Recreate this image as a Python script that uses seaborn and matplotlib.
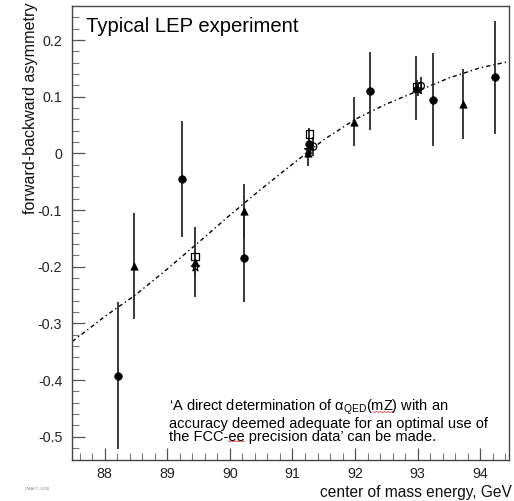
import numpy as np
import pandas as pd
import matplotlib
matplotlib.use("Agg")
import matplotlib.pyplot as plt
import seaborn as sns

# ---- data ----
circ_x = [88.22, 89.24, 90.23, 91.27, 92.24, 93.24, 94.24]
circ_y = [-0.392, -0.045, -0.185, 0.016, 0.110, 0.095, 0.134]
circ_e = [0.130, 0.102, 0.077, 0.012, 0.068, 0.082, 0.099]

tri_x = [88.47, 89.45, 90.23, 91.25, 91.98, 92.98, 93.73]
tri_y = [-0.199, -0.192, -0.102, 0.000, 0.056, 0.115, 0.087]
tri_e = [0.093, 0.062, 0.048, 0.022, 0.043, 0.057, 0.062]

sq_x = [89.44, 91.27, 92.99]
sq_y = [-0.182, 0.034, 0.118]
sq_e = [0.012, 0.010, 0.012]

star_x = [89.45, 91.26, 93.00]
star_y = [-0.201, 0.006, 0.113]
star_e = [0.015, 0.010, 0.012]

ocirc_x = [91.33, 93.05]
ocirc_y = [0.012, 0.119]
ocirc_e = [0.016, 0.015]

curve_x = [87.48, 88.0, 88.5, 89.0, 89.5, 90.0, 90.5, 91.0, 91.5, 92.0, 92.5, 93.0, 93.5, 94.0, 94.46]
curve_y = [-0.332, -0.288, -0.249, -0.204, -0.157, -0.109, -0.063, -0.019, 0.024, 0.060, 0.087, 0.110, 0.133, 0.151, 0.162]

x_ticks = [88, 89, 90, 91, 92, 93, 94]
y_ticks = [-0.5, -0.4, -0.3, -0.2, -0.1, 0.0, 0.1, 0.2]
y_tick_labels = ["-0.5", "-0.4", "-0.3", "-0.2", "-0.1", "0", "0.1", "0.2"]

sns.set_theme(style="white")
plt.rcParams['font.family'] = ['Liberation Sans', 'DejaVu Sans']
plt.rcParams['mathtext.fontset'] = 'custom'
plt.rcParams['mathtext.rm'] = 'Liberation Sans'
plt.rcParams['mathtext.it'] = 'Liberation Sans'

W, H = 514, 501
fig = plt.figure(figsize=(W / 100, H / 100), dpi=100)
ax = fig.add_axes([72/W, 41/H, 437/W, 454/H])

# theory curve
sns.lineplot(x=curve_x, y=curve_y, ax=ax, color="black", lw=1.0,
             dashes=False, sort=False)
ax.lines[-1].set_dashes((3, 2.2, 1, 2.2))

ecol = "#2a2a2a"
groups = [
    (circ_x, circ_y, circ_e, "o", "black", 30),
    (tri_x, tri_y, tri_e, "^", "black", 28),
    (sq_x, sq_y, sq_e, "s", "none", 28),
    (star_x, star_y, star_e, "*", "none", 40),
    (ocirc_x, ocirc_y, ocirc_e, "o", "none", 28),
]
for gx, gy, ge, m, fc, s in groups:
    gx = np.array(gx); gy = np.array(gy); ge = np.array(ge)
    ax.vlines(gx, gy - ge, gy + ge, color=ecol, lw=1.3, zorder=2)
    df = pd.DataFrame({"x": gx, "y": gy})
    if fc == "none":
        sns.scatterplot(data=df, x="x", y="y", ax=ax, marker=m, s=s,
                        facecolor="none", edgecolor="black", linewidth=0.9, zorder=3)
    else:
        sns.scatterplot(data=df, x="x", y="y", ax=ax, marker=m, s=s,
                        color="black", edgecolor="black", linewidth=0.5, zorder=3)

ax.set_xlim(87.477, 94.46)
ax.set_ylim(-0.541, 0.26)
ax.set_xticks(x_ticks)
ax.set_xticklabels([str(t) for t in x_ticks])
ax.set_yticks(y_ticks)
ax.set_yticklabels(y_tick_labels)
ax.set_xticks(np.arange(87.6, 94.5, 0.2), minor=True)
ax.set_yticks(np.arange(-0.52, 0.26, 0.02), minor=True)
ax.tick_params(axis="both", which="major", direction="in", length=9, width=0.9,
               color="#555555", labelsize=10.3, labelcolor="#222222",
               top=False, right=False, bottom=True, left=True)
ax.tick_params(axis="y", which="major", pad=7)
ax.tick_params(axis="x", which="major", pad=5)
ax.tick_params(axis="both", which="minor", direction="in", length=5, width=0.8,
               color="#777777", top=False, right=False, bottom=True, left=True)
for sp in ax.spines.values():
    sp.set_color("#444444")
    sp.set_linewidth(1.0)

ax.set_xlabel("")
ax.set_ylabel("")
fig.text(512/W, 1 - 493/H, "center of mass energy, GeV", ha="right", va="center",
         fontsize=11.2, color="#111111")
fig.text(31/W, 1 - 2/H, "forward-backward asymmetry", rotation=90, ha="center", va="top",
         fontsize=11.6, color="#111111")

fig.text(86/W, 1 - 26/H, "Typical LEP experiment",
         ha="left", va="center", fontsize=14.6, color="black")

lines = ["\u2018A direct determination of \u03b1$_{\\mathrm{QED}}$(mZ) with an",
         "accuracy deemed adequate for an optimal use of",
         "the FCC-ee precision data\u2019 can be made."]
fs_note = 10.5
x0 = 169
note = fig.text(x0/W, 1 - 398/H, "\n".join(lines), ha="left", va="top",
                fontsize=fs_note, color="black", linespacing=0.93)

# red spell-check underlines (measured from the rendered text)
renderer = fig.canvas.get_renderer()
bb = note.get_window_extent(renderer)
top_px = H - bb.y1
bot_px = H - bb.y0
def text_width(s):
    t = fig.text(0, 0, s, fontsize=fs_note)
    w = t.get_window_extent(renderer).width
    t.remove()
    return w
line_base = [top_px + 12.5, None, bot_px - 4.0]
marks = [(0, "\u2018A direct determination of \u03b1$_{\\mathrm{QED}}$(", "mZ"),
         (2, "the FCC-", "ee")]
for li, pre, word in marks:
    xa = x0 + text_width(pre)
    xb = xa + text_width(word)
    yy = line_base[li] + 1.5
    xs = np.linspace(xa, xb, 12)
    yw = yy + np.where(np.arange(12) % 2 == 0, -0.5, 0.5)
    fig.add_artist(plt.Line2D(xs / W, 1 - yw / H, color="#d04040", lw=0.6))

fig.text(25/W, 1 - 489/H, "CMAFC-1430", fontsize=3, color="#888888", ha="left", va="center")

fig.savefig("out.png", dpi=100)
